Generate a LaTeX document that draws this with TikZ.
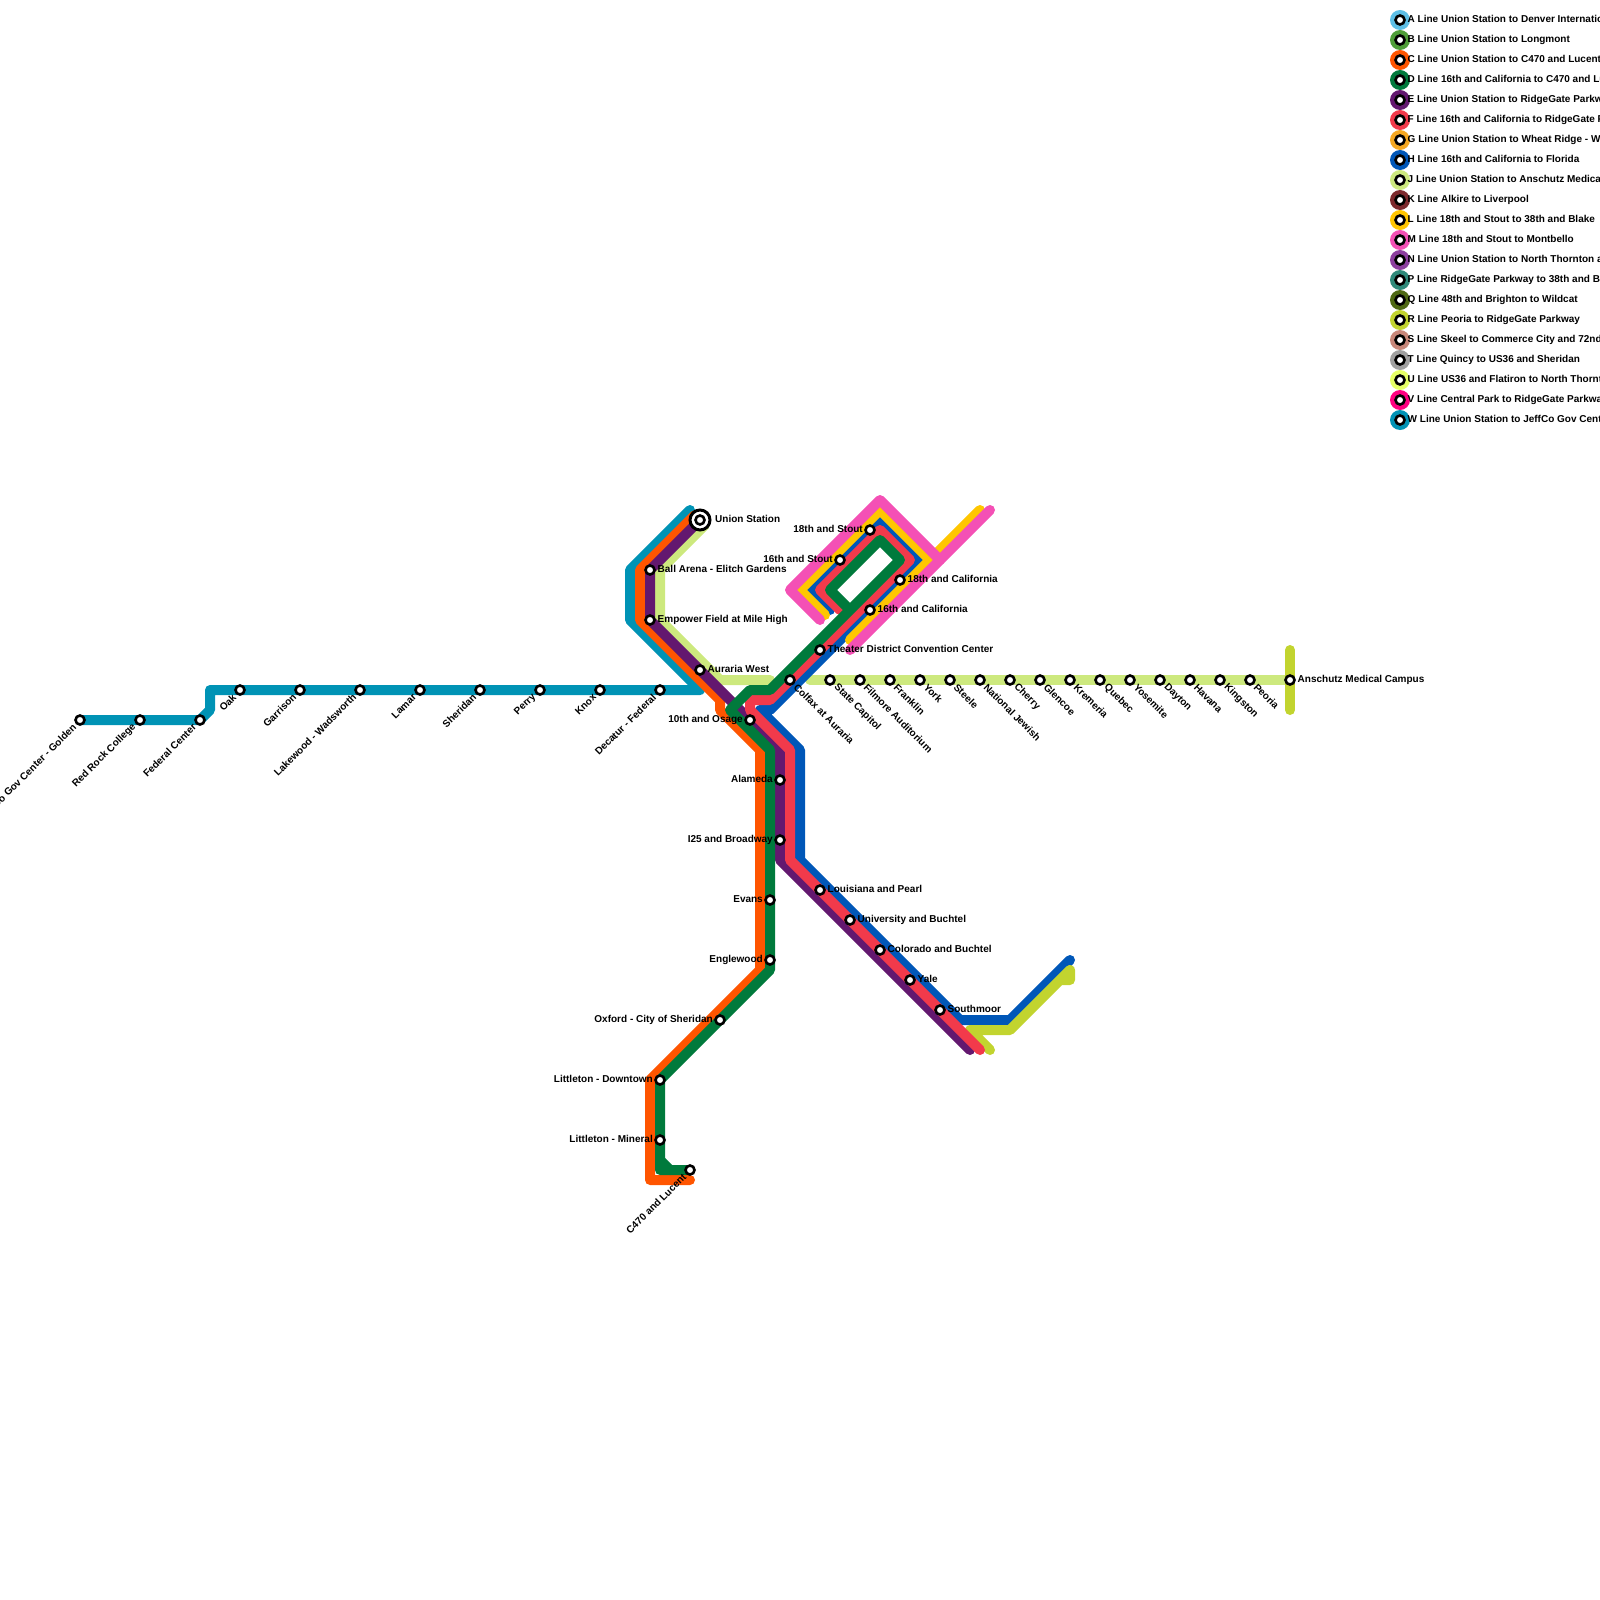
\documentclass[tikz,border=0pt]{standalone}
\usepackage{fontspec}
\setmainfont{Liberation Sans}
\definecolor{cA}{HTML}{5EBFE6}
\definecolor{cB}{HTML}{4F9E38}
\definecolor{cC}{HTML}{FF5500}
\definecolor{cD}{HTML}{007A3C}
\definecolor{cE}{HTML}{63186F}
\definecolor{cF}{HTML}{F23A4B}
\definecolor{cG}{HTML}{F5A821}
\definecolor{cH}{HTML}{0057B8}
\definecolor{cJ}{HTML}{CDE97E}
\definecolor{cK}{HTML}{7D2A2E}
\definecolor{cL}{HTML}{FFC600}
\definecolor{cM}{HTML}{F450B5}
\definecolor{cN}{HTML}{8D3F9F}
\definecolor{cP}{HTML}{2F8A7A}
\definecolor{cQ}{HTML}{4F6914}
\definecolor{cR}{HTML}{C2D42F}
\definecolor{cS}{HTML}{C8877A}
\definecolor{cT}{HTML}{A0A0A0}
\definecolor{cU}{HTML}{E6FF66}
\definecolor{cV}{HTML}{FF0080}
\definecolor{cW}{HTML}{0093B5}
\tikzset{
  railline/.style={line width=10pt,line cap=round,line join=round},
  stn/.style={circle,draw=black,fill=white,line width=2.6pt,minimum size=9pt,inner sep=0pt},
  bigstn/.style={circle,draw=black,fill=white,line width=3pt,minimum size=20pt,inner sep=0pt},
  lbl/.style={font=\fontsize{10}{12}\selectfont\bfseries,inner sep=0pt,text=black},
  legdot/.style={circle,line width=0pt,minimum size=20pt,inner sep=0pt},
}
\begin{document}
\begin{tikzpicture}[x=1pt,y=-1pt]
\useasboundingbox (0,0) rectangle (1600,1600);
% station positions
\foreach \n/\x/\y in {union/700/520,ball/650/570,empower/650/620,auraria/700/670,decatur/660/690,knox/600/690,perry/540/690,sheridan/480/690,lamar/420/690,lakewood/360/690,garrison/300/690,oak/240/690,federal/200/720,redrock/140/720,jeffco/80/720,
osage/750/720,colfax/790/680,theater/820/650,cal16/870/610,cal18/900/580,stout16/840/560,stout18/870/530,
capitol/830/680,filmore/860/680,franklin/890/680,york/920/680,steele/950/680,natjew/980/680,cherry/1010/680,glencoe/1040/680,kremeria/1070/680,quebec/1100/680,yosemite/1130/680,dayton/1160/680,havana/1190/680,kingston/1220/680,peoria/1250/680,anschutz/1290/680,
alameda/780/780,iquarter/780/840,evans/770/900,englewood/770/960,oxford/720/1020,downtown/660/1080,mineral/660/1140,lucent/690/1170,
louisiana/820/890,university/850/920,colorado/880/950,yale/910/980,southmoor/940/1010}
  {\coordinate (\n) at (\x,\y);}
% W line
\draw[railline,cW] (jeffco) -- (federal) -- (210,710) -- (210,690) -- (700,690) -- (630,620) -- (630,570) -- (690,510);
% J line
\draw[railline,cJ] (705,525) -- (660,570) -- (660,620) -- (720,680) -- (770,680);
\draw[railline,cJ] (810,680) -- (1285,680);
% R line, Anschutz stub
\draw[railline,cR] (1290,650) -- (anschutz) -- (1290,710);
% C line
\draw[railline,cC] (695,515) -- (640,570) -- (640,620) -- (720,700) -- (720,710) -- (760,750) -- (760,970) -- (650,1080) -- (650,1180) -- (690,1180);
% E line
\draw[railline,cE] (union) -- (ball) -- (empower) -- (780,750) -- (780,860) -- (970,1050);
% H line
\draw[railline,cH] (830,610) -- (810,590) -- (880,520) -- (920,560) -- (780,700) -- (770,710) -- (760,710) -- (800,750) -- (800,860) -- (960,1020) -- (1010,1020) -- (1070,960);
% R line, south end
\draw[railline,cR] (990,1050) -- (970,1030) -- (1010,1030) -- (1070,970) -- (1070,980) -- (1060,980);
% F line
\draw[railline,cF] (980,1050) -- (790,860) -- (790,750) -- (750,710) -- (750,700) -- (770,700) -- (910,560) -- (880,530) -- (820,590) -- (840,610);
% D line
\draw[railline,cD] (850,610) -- (830,590) -- (880,540) -- (900,560) -- (770,690) -- (750,690) -- (730,710) -- (770,750) -- (770,970) -- (660,1080) -- (660,1170) -- (690,1170);
\draw[railline,cD] (660,1160) -- (670,1170);
% L line
\draw[railline,cL] (980,510) -- (850,640);
\draw[railline,cL] (930,560) -- (880,510) -- (800,590) -- (825,615);
% M line
\draw[railline,cM] (990,510) -- (850,650);
\draw[railline,cM] (940,560) -- (880,500) -- (790,590) -- (820,620);
% station markers
\foreach \n in {ball,empower,auraria,decatur,knox,perry,sheridan,lamar,lakewood,garrison,oak,federal,redrock,jeffco,osage,colfax,theater,cal16,cal18,stout16,stout18,capitol,filmore,franklin,york,steele,natjew,cherry,glencoe,kremeria,quebec,yosemite,dayton,havana,kingston,peoria,anschutz,alameda,iquarter,evans,englewood,oxford,downtown,mineral,lucent,louisiana,university,colorado,yale,southmoor}
  {\node[stn] (m-\n) at (\n) {};}
\node[bigstn] (m-union-outer) at (union) {};
\node[stn] (m-union) at (union) {};
% labels to the east
\node[lbl,anchor=base west] (l-union) at ([shift={(15,2.5)}]union) {Union Station};
\foreach \n/\t in {ball/Ball Arena - Elitch Gardens,empower/Empower Field at Mile High,auraria/Auraria West,theater/Theater District Convention Center,cal16/16th and California,cal18/18th and California,louisiana/Louisiana and Pearl,university/University and Buchtel,colorado/Colorado and Buchtel,yale/Yale,southmoor/Southmoor,anschutz/Anschutz Medical Campus}
  {\node[lbl,anchor=base west] (l-\n) at ([shift={(7.5,2.5)}]\n) {\t};}
% labels to the west
\foreach \n/\t in {stout18/18th and Stout,stout16/16th and Stout,osage/10th and Osage,alameda/Alameda,iquarter/I25 and Broadway,evans/Evans,englewood/Englewood,oxford/Oxford - City of Sheridan,downtown/Littleton - Downtown,mineral/Littleton - Mineral}
  {\node[lbl,anchor=base east] (l-\n) at ([shift={(-7,2.5)}]\n) {\t};}
% rotated labels, down right
\foreach \n/\t in {colfax/Colfax at Auraria,capitol/State Capitol,filmore/Filmore Auditorium,franklin/Franklin,york/York,steele/Steele,natjew/National Jewish,cherry/Cherry,glencoe/Glencoe,kremeria/Kremeria,quebec/Quebec,yosemite/Yosemite,dayton/Dayton,havana/Havana,kingston/Kingston,peoria/Peoria}
  {\node[lbl,anchor=west,rotate=-45] (l-\n) at ([shift={(5.5,5.5)}]\n) {\t};}
% rotated labels, down left
\foreach \n/\t in {decatur/Decatur - Federal,knox/Knox,perry/Perry,sheridan/Sheridan,lamar/Lamar,lakewood/Lakewood - Wadsworth,garrison/Garrison,oak/Oak,federal/Federal Center,redrock/Red Rock College,jeffco/JeffCo Gov Center - Golden,lucent/C470 and Lucent}
  {\node[lbl,anchor=east,rotate=45] (l-\n) at ([shift={(-5.5,5.5)}]\n) {\t};}
% legend
\foreach \c/\y/\t in {cA/20/A Line Union Station to Denver International Airport,cB/40/B Line Union Station to Longmont,cC/60/C Line Union Station to C470 and Lucent,cD/80/D Line 16th and California to C470 and Lucent,cE/100/E Line Union Station to RidgeGate Parkway,cF/120/F Line 16th and California to RidgeGate Parkway,cG/140/G Line Union Station to Wheat Ridge - Ward,cH/160/H Line 16th and California to Florida,cJ/180/J Line Union Station to Anschutz Medical Campus,cK/200/K Line Alkire to Liverpool,cL/220/L Line 18th and Stout to 38th and Blake,cM/240/M Line 18th and Stout to Montbello,cN/260/N Line Union Station to North Thornton and Eastlake,cP/280/P Line RidgeGate Parkway to 38th and Blake,cQ/300/Q Line 48th and Brighton to Wildcat,cR/320/R Line Peoria to RidgeGate Parkway,cS/340/S Line Skeel to Commerce City and 72nd,cT/360/T Line Quincy to US36 and Sheridan,cU/380/U Line US36 and Flatiron to North Thornton,cV/400/V Line Central Park to RidgeGate Parkway,cW/420/W Line Union Station to JeffCo Gov Center - Golden}
{
  \node[legdot,fill=\c] (d-\c) at (1400,\y) {};
  \node[stn] (k-\c) at (d-\c) {};
  \node[lbl,anchor=base west] (t-\c) at (1407.5,\y+2.5) {\t};
}
\end{tikzpicture}
\end{document}
